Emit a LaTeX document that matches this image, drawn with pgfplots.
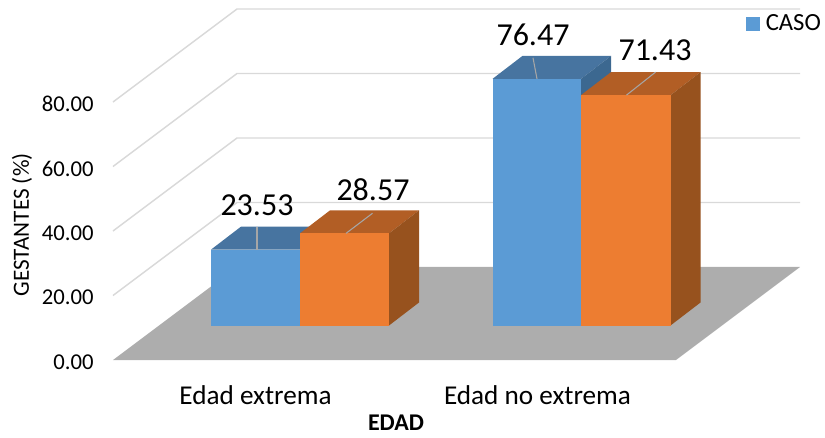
\documentclass[border=0pt]{standalone}
\usepackage{pgfplots}
\pgfplotsset{compat=1.18}
\usepackage{fontspec}
\setmainfont{Carlito}
\definecolor{bfront}{HTML}{5B9BD5}
\definecolor{btop}{HTML}{4774A0}
\definecolor{bside}{HTML}{3C6890}
\definecolor{ofront}{HTML}{ED7D31}
\definecolor{otop}{HTML}{B25E25}
\definecolor{oside}{HTML}{97521E}
\definecolor{floorc}{HTML}{ADADAD}
\definecolor{gridc}{HTML}{D9D9D9}
\definecolor{leader}{HTML}{A6A6A6}
\begin{document}
\begin{tikzpicture}
\path[use as bounding box] (-84.75pt,-42.75pt) rectangle (534pt,285pt);
\begin{axis}[
  scale only axis, width=534pt, height=285pt,
  xmin=113, xmax=825, ymin=-6.2, ymax=111.63,
  clip=false,
  axis line style={draw=none},
  major tick length=0pt,
  ytick={0,20,40,60,80},
  xtick={255.5,537.5},
  xticklabels={Edad extrema,Edad no extrema},
  yticklabel style={font=\fontsize{17}{20}\selectfont, xshift=-11pt, yshift=-1.5pt},
  xticklabel style={font=\fontsize{20.4}{24}\selectfont, yshift=-1pt},
  /pgf/number format/assume math mode=true,
  /pgf/number format/fixed,
  /pgf/number format/zerofill,
  /pgf/number format/precision=2,
  ylabel={GESTANTES (\%)},
  ylabel style={at={(axis cs:22,41.9)}, anchor=center, font=\fontsize{17.4}{20}\selectfont},
  xlabel={\textbf{EDAD}},
  xlabel style={at={(axis cs:396,-19.5)}, anchor=center, font=\fontsize{18}{20}\selectfont},
  legend style={at={(axis cs:745.5,104.2)}, anchor=west, draw=none, fill=none,
    font=\fontsize{18.5}{20}\selectfont, inner sep=0pt},
  legend image code/.code={\fill[bfront] (0pt,-5.25pt) rectangle (10.5pt,5.25pt);},
  every axis plot/.append style={mark=none},
]
% gridlines
\addplot[gridc, line width=1.1pt, forget plot] coordinates {(113,20)(237,48.84)(800,48.84)};
\addplot[gridc, line width=1.1pt, forget plot] coordinates {(113,40)(237,68.84)(800,68.84)};
\addplot[gridc, line width=1.1pt, forget plot] coordinates {(113,60)(237,88.84)(800,88.84)};
\addplot[gridc, line width=1.1pt, forget plot] coordinates {(113,80)(237,108.84)(800,108.84)};
% floor
\addplot[fill=floorc, draw=none, forget plot] coordinates {(113,0)(237,28.84)(800,28.84)(676,0)} -- cycle;
\pgfplotsset{every axis plot/.append style={y filter/.expression={y+10.7}}}
% Edad extrema, blue
\addplot[fill=btop, draw=none, forget plot] coordinates {(211,23.53)(241,30.66)(330,30.66)(300,23.53)} -- cycle;
\addplot[fill=bfront, draw=none] coordinates {(211,0)(211,23.53)(300,23.53)(300,0)} -- cycle;
\addlegendentry{\hspace{2.5pt}CASO}
% Edad extrema, orange
\addplot[fill=otop, draw=none, forget plot] coordinates {(300,28.57)(330,35.7)(419,35.7)(389,28.57)} -- cycle;
\addplot[fill=oside, draw=none, forget plot] coordinates {(389,0)(419,7.13)(419,35.7)(389,28.57)} -- cycle;
\addplot[fill=ofront, draw=none, forget plot] coordinates {(300,0)(300,28.57)(389,28.57)(389,0)} -- cycle;
% Edad no extrema, blue
\addplot[fill=btop, draw=none, forget plot] coordinates {(492.5,76.47)(522.5,83.6)(611,83.6)(581,76.47)} -- cycle;
\addplot[fill=bside, draw=none, forget plot] coordinates {(581,0)(611,7.13)(611,83.6)(581,76.47)} -- cycle;
\addplot[fill=bfront, draw=none, forget plot] coordinates {(492.5,0)(492.5,76.47)(581,76.47)(581,0)} -- cycle;
% Edad no extrema, orange
\addplot[fill=otop, draw=none, forget plot] coordinates {(581,71.43)(611,78.56)(700.5,78.56)(670.5,71.43)} -- cycle;
\addplot[fill=oside, draw=none, forget plot] coordinates {(670.5,0)(700.5,7.13)(700.5,78.56)(670.5,71.43)} -- cycle;
\addplot[fill=ofront, draw=none, forget plot] coordinates {(581,0)(581,71.43)(670.5,71.43)(670.5,0)} -- cycle;
% leader lines
\addplot[leader, line width=0.8pt, forget plot] coordinates {(257,23.53)(257,30.66)};
\addplot[leader, line width=0.8pt, forget plot] coordinates {(346,28.57)(372.5,34.8)};
\addplot[leader, line width=0.8pt, forget plot] coordinates {(537,76.47)(533,83.0)};
\addplot[leader, line width=0.8pt, forget plot] coordinates {(626.5,71.43)(655.5,78.56)};
% data labels
\node[font=\fontsize{24}{28}\selectfont] at (axis cs:257,48.06) {23.53};
\node[font=\fontsize{24}{28}\selectfont] at (axis cs:373,52.71) {28.57};
\node[font=\fontsize{24}{28}\selectfont] at (axis cs:533,100.78) {76.47};
\node[font=\fontsize{24}{28}\selectfont] at (axis cs:655,96.12) {71.43};
\end{axis}
\end{tikzpicture}
\end{document}
